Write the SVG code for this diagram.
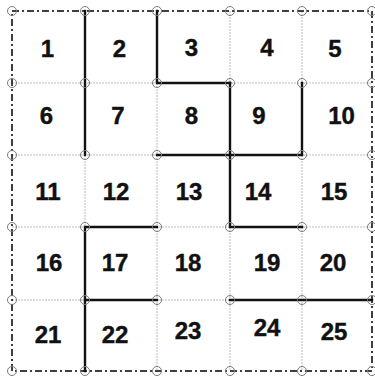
<svg xmlns="http://www.w3.org/2000/svg" width="375" height="378" viewBox="0 0 375 378">
<style>
.grid{stroke:#bdbdbd;stroke-width:1;stroke-dasharray:2,1;fill:none}
.border{stroke:#000;stroke-width:1.5;stroke-dasharray:7,3,2,3;fill:none}
.wall{stroke:#111;stroke-width:2.4;fill:none;stroke-linecap:square}
.pt{stroke:#7a7a7a;stroke-width:1;fill:none}
.lbl{font-family:"Liberation Sans",Arial,sans-serif;font-weight:bold;font-size:24px;fill:#111;stroke:#111;stroke-width:0.4;text-anchor:middle}
</style>
<rect width="375" height="378" fill="#fff"/>
<g id="grid">
<path class="grid" d="M85,11V371M157,11V371M230,11V371M302,11V371M12,83H372M12,155H372M12,227H372M12,300H372"/>
</g>
<g id="border">
<rect class="border" x="12" y="11" width="360" height="360"/>
</g>
<g id="connectors">
<path class="wall" d="M85,11V155"/>
<path class="wall" d="M157,11V83H230"/>
<path class="wall" d="M230,83V227H302"/>
<path class="wall" d="M157,155H302V83"/>
<path class="wall" d="M157,227H85V371"/>
<path class="wall" d="M85,300H157"/>
<path class="wall" d="M230,300H372"/>
</g>
<g id="points">
<circle class="pt" cx="12" cy="11" r="4.5"/><circle class="pt" cx="85" cy="11" r="4.5"/><circle class="pt" cx="157" cy="11" r="4.5"/><circle class="pt" cx="230" cy="11" r="4.5"/><circle class="pt" cx="302" cy="11" r="4.5"/><circle class="pt" cx="372" cy="11" r="4.5"/>
<circle class="pt" cx="12" cy="83" r="4.5"/><circle class="pt" cx="85" cy="83" r="4.5"/><circle class="pt" cx="157" cy="83" r="4.5"/><circle class="pt" cx="230" cy="83" r="4.5"/><circle class="pt" cx="302" cy="83" r="4.5"/><circle class="pt" cx="372" cy="83" r="4.5"/>
<circle class="pt" cx="12" cy="155" r="4.5"/><circle class="pt" cx="85" cy="155" r="4.5"/><circle class="pt" cx="157" cy="155" r="4.5"/><circle class="pt" cx="230" cy="155" r="4.5"/><circle class="pt" cx="302" cy="155" r="4.5"/><circle class="pt" cx="372" cy="155" r="4.5"/>
<circle class="pt" cx="12" cy="227" r="4.5"/><circle class="pt" cx="85" cy="227" r="4.5"/><circle class="pt" cx="157" cy="227" r="4.5"/><circle class="pt" cx="230" cy="227" r="4.5"/><circle class="pt" cx="302" cy="227" r="4.5"/><circle class="pt" cx="372" cy="227" r="4.5"/>
<circle class="pt" cx="12" cy="300" r="4.5"/><circle class="pt" cx="85" cy="300" r="4.5"/><circle class="pt" cx="157" cy="300" r="4.5"/><circle class="pt" cx="230" cy="300" r="4.5"/><circle class="pt" cx="302" cy="300" r="4.5"/><circle class="pt" cx="372" cy="300" r="4.5"/>
<circle class="pt" cx="12" cy="371" r="4.5"/><circle class="pt" cx="85" cy="371" r="4.5"/><circle class="pt" cx="157" cy="371" r="4.5"/><circle class="pt" cx="230" cy="371" r="4.5"/><circle class="pt" cx="302" cy="371" r="4.5"/><circle class="pt" cx="372" cy="371" r="4.5"/>
</g>
<g id="c1"><text class="lbl" x="47.5" y="56.6">1</text></g>
<g id="c2"><text class="lbl" x="119.5" y="56.6">2</text></g>
<g id="c3"><text class="lbl" x="191.5" y="55.6">3</text></g>
<g id="c4"><text class="lbl" x="267" y="56.4">4</text></g>
<g id="c5"><text class="lbl" x="335" y="56.6">5</text></g>
<g id="c6"><text class="lbl" x="46.5" y="123.6">6</text></g>
<g id="c7"><text class="lbl" x="118" y="123.6">7</text></g>
<g id="c8"><text class="lbl" x="191.5" y="123.6">8</text></g>
<g id="c9"><text class="lbl" x="259" y="123.6">9</text></g>
<g id="c10"><text class="lbl" x="341.5" y="124.4">10</text></g>
<g id="c11"><text class="lbl" x="48" y="200.4">11</text></g>
<g id="c12"><text class="lbl" x="116" y="200.4">12</text></g>
<g id="c13"><text class="lbl" x="189" y="200.4">13</text></g>
<g id="c14"><text class="lbl" x="258" y="200.4">14</text></g>
<g id="c15"><text class="lbl" x="334" y="200.4">15</text></g>
<g id="c16"><text class="lbl" x="49" y="271.3">16</text></g>
<g id="c17"><text class="lbl" x="115" y="271.3">17</text></g>
<g id="c18"><text class="lbl" x="188" y="271.3">18</text></g>
<g id="c19"><text class="lbl" x="267" y="271.3">19</text></g>
<g id="c20"><text class="lbl" x="333" y="271.3">20</text></g>
<g id="c21"><text class="lbl" x="48" y="342.6">21</text></g>
<g id="c22"><text class="lbl" x="115" y="343.3">22</text></g>
<g id="c23"><text class="lbl" x="188" y="338.6">23</text></g>
<g id="c24"><text class="lbl" x="267" y="336.1">24</text></g>
<g id="c25"><text class="lbl" x="334" y="339.9">25</text></g>
</svg>
